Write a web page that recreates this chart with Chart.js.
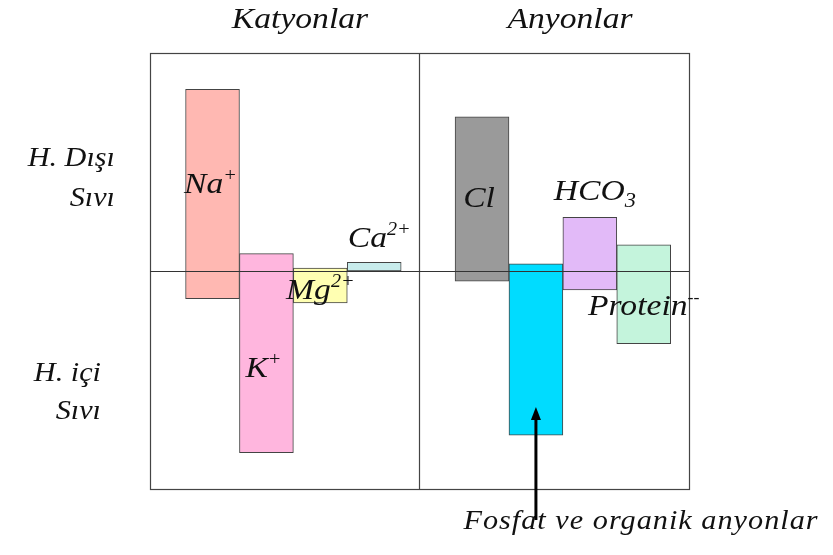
<!DOCTYPE html>
<html><head><meta charset="utf-8">
<script src="https://cdn.jsdelivr.net/npm/chart.js@4"></script>
<style>html,body{margin:0;padding:0;background:#fff}#wrap{width:833px;height:555px}</style>
</head><body><div id="wrap"><canvas id="c" width="833" height="555"></canvas></div>
<script>
// Ions (categories), slot index on the horizontal axis (slot 4 is the gap between groups)
const categories = ['Na+', 'K+', 'Mg2+', 'Ca2+', 'Cl', 'Fosfat ve organik anyonlar', 'HCO3', 'Protein--'];
const slots      = [0, 1, 2, 3, 5, 6, 7, 8];
// Range of each bar: above 0 = H. Dışı Sıvı, below 0 = H. içi Sıvı
const lowValues  = [-19, -125, -22, 0, -7, -113, -13, -50];
const highValues = [125, 12, 2, 6, 106, 5, 37, 18];
const groupTitles = ['Katyonlar', 'Anyonlar'];
const sideLabels = [['H. Dışı', 'Sıvı'], ['H. içi', 'Sıvı']];
const fillColors = ['#ffb8b2', '#ffb6de', '#ffffb2', '#c8ecec', '#9a9a9a', '#00dcff', '#e2baf8', '#c4f4dc'];

const FONT = '"Times New Roman", "Liberation Serif", Tinos, Times, serif';
const STRETCH = 1.12;

function txt(ctx, parts, x, y, align, spacing) {
  // parts: [[text, size, dy]]
  ctx.save();
  ctx.letterSpacing = (spacing || 0) + 'px';
  let w = 0;
  parts.forEach(p => { ctx.font = 'italic ' + p[1] + 'px ' + FONT; w += ctx.measureText(p[0]).width; });
  w *= STRETCH;
  const sx = align === 'center' ? x - w / 2 : align === 'right' ? x - w : x;
  ctx.translate(sx, y);
  ctx.scale(STRETCH, 1);
  ctx.textBaseline = 'alphabetic';
  ctx.textAlign = 'left';
  ctx.fillStyle = '#111';
  let cx = 0;
  parts.forEach(p => {
    ctx.font = 'italic ' + p[1] + 'px ' + FONT;
    ctx.fillText(p[0], cx, (p[2] || 0));
    cx += ctx.measureText(p[0]).width;
  });
  ctx.restore();
}

const overlay = {
  id: 'overlay',
  afterDatasetsDraw(chart) {
    const {ctx, chartArea: a, scales: {x, y}} = chart;
    ctx.save();
    ctx.strokeStyle = '#444';
    ctx.lineWidth = 1.2;
    ctx.strokeRect(a.left + 0.5, a.top + 0.5, a.right - a.left, a.bottom - a.top);
    const dx = Math.round(x.getPixelForValue(3.83)) + 0.5;
    ctx.beginPath(); ctx.moveTo(dx, a.top); ctx.lineTo(dx, a.bottom); ctx.stroke();
    const zy = Math.round(y.getPixelForValue(0)) + 0.5;
    ctx.strokeStyle = '#333';
    ctx.beginPath(); ctx.moveTo(a.left, zy); ctx.lineTo(a.right, zy); ctx.stroke();
    ctx.restore();

    const X = v => x.getPixelForValue(v), Y = v => y.getPixelForValue(v);
    // group titles
    txt(ctx, [[groupTitles[0], 30]], 300, a.top - 25, 'center');
    txt(ctx, [[groupTitles[1], 30]], 570, a.top - 25, 'center');
    // side labels
    txt(ctx, [[sideLabels[0][0], 27]], 115, Y(72), 'right');
    txt(ctx, [[sideLabels[0][1], 27]], 115, Y(44.5), 'right');
    txt(ctx, [[sideLabels[1][0], 27]], 101, Y(-76), 'right');
    txt(ctx, [[sideLabels[1][1], 27]], 101, Y(-102), 'right');
    // ion labels
    txt(ctx, [['Na', 30], ['+', 18, -12]], X(slots[0]) - 2, Y(53.7), 'center');
    txt(ctx, [['K', 30], ['+', 18, -12]], X(slots[1]) - 3, Y(-73), 'center');
    txt(ctx, [['Mg', 30], ['2+', 18, -12]], X(slots[2]), Y(-19.3), 'center');
    txt(ctx, [['Ca', 30], ['2+', 18, -12]], X(slots[3]) + 5, Y(16.5), 'center');
    txt(ctx, [['Cl', 30]], X(slots[4]) - 3, Y(44), 'center');
    txt(ctx, [['HCO', 30], ['3', 20, 7]], X(slots[6]) + 5, Y(49), 'center');
    txt(ctx, [['Protein', 30], ['--', 16, -12]], X(slots[7]), Y(-30), 'center');
    txt(ctx, [[categories[5], 27]], 641, a.bottom + 40, 'center', 0.9);
    // arrow
    const ax = X(slots[5]), ay = Y(-95);
    ctx.save();
    ctx.strokeStyle = '#000'; ctx.fillStyle = '#000'; ctx.lineWidth = 3;
    ctx.beginPath(); ctx.moveTo(ax, a.bottom + 31); ctx.lineTo(ax, ay + 8); ctx.stroke();
    ctx.beginPath(); ctx.moveTo(ax, ay - 2); ctx.lineTo(ax - 5, ay + 11); ctx.lineTo(ax + 5, ay + 11); ctx.closePath(); ctx.fill();
    ctx.restore();
  }
};

new Chart(document.getElementById('c'), {
  type: 'bar',
  data: {
    datasets: [{
      data: slots.map((s, i) => ({x: s, y: [lowValues[i], highValues[i]]})),
      backgroundColor: fillColors,
      borderColor: '#444',
      borderWidth: 1,
      borderSkipped: false,
      barPercentage: 1,
      categoryPercentage: 1
    }]
  },
  options: {
    responsive: false,
    animation: false,
    events: [],
    layout: {padding: {left: 150, right: 144, top: 53, bottom: 66}},
    plugins: {legend: {display: false}, tooltip: {enabled: false}},
    scales: {
      x: {type: 'linear', min: -1.16, max: 8.84, offset: false, display: false,
          afterBuildTicks: s => { s.ticks = slots.map(v => ({value: v})); }},
      y: {min: -150, max: 150, display: false}
    }
  },
  plugins: [overlay]
});
</script></body></html>
